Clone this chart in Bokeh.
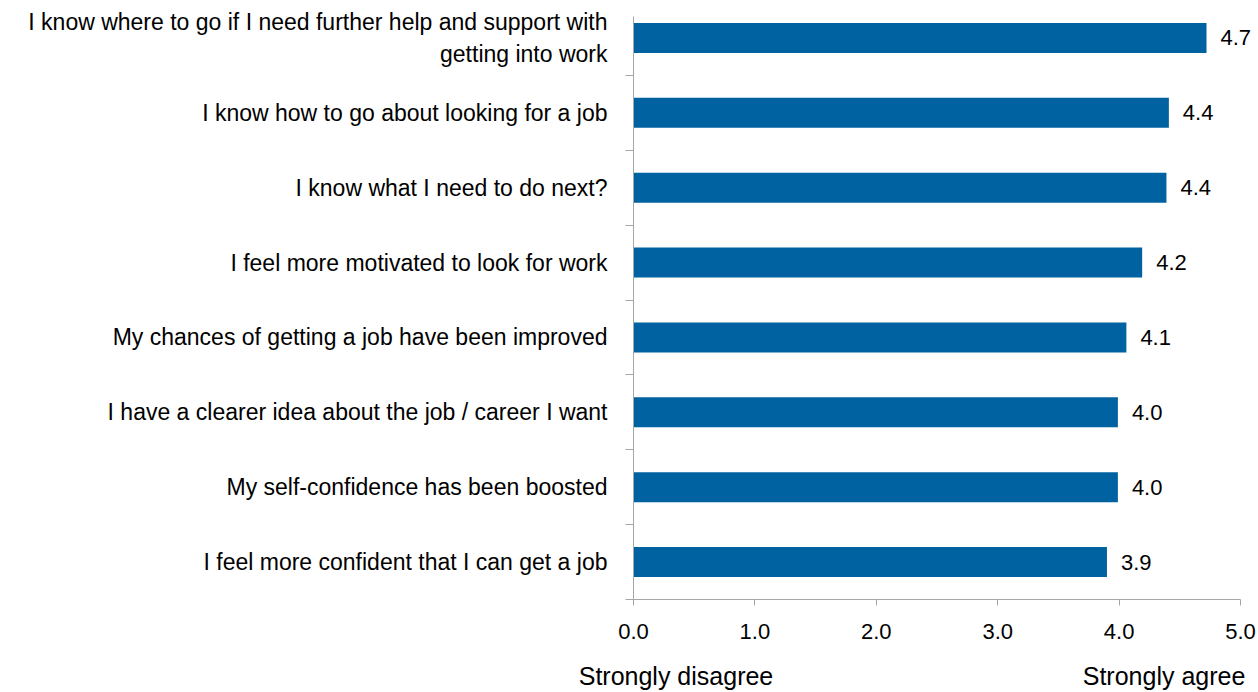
from bokeh.plotting import figure
from bokeh.models import Range1d, FixedTicker, LabelSet, ColumnDataSource, NumeralTickFormatter, LinearAxis
from bokeh.core.properties import value
from bokeh.embed import file_html
from bokeh.resources import INLINE

categories = [
    "I know where to go if I need further help and support with\ngetting into work",
    "I know how to go about looking for a job",
    "I know what I need to do next?",
    "I feel more motivated to look for work",
    "My chances of getting a job have been improved",
    "I have a clearer idea about the job / career I want",
    "My self-confidence has been boosted",
    "I feel more confident that I can get a job",
]
values = [4.72, 4.41, 4.39, 4.19, 4.06, 3.99, 3.99, 3.90]
x_ticks = [0, 1, 2, 3, 4, 5]
end_labels = ["Strongly disagree", "Strongly agree"]
end_label_pos = [0.35, 4.37]

FONT = "Liberation Sans"
BAR = "#0062A0"
AXIS = "#A6A6A6"

n = len(categories)
ypos = [n - i - 0.5 for i in range(n)]

xmax = 5.0 * 625 / 607  # room on the right for the 4.7 label
p = figure(width=1258, height=692, output_backend="svg", toolbar_location=None,
           x_range=Range1d(0, xmax), y_range=Range1d(0, n),
           min_border_left=633, min_border_right=0, min_border_top=0, min_border_bottom=93)
p.outline_line_color = None
p.xgrid.visible = False
p.ygrid.visible = False

src = ColumnDataSource(dict(y=ypos, v=values, lab=[f"{v:.1f}" for v in values]))
p.hbar(y="y", right="v", left=0, height=0.4, source=src, fill_color=BAR, line_color=None)

p.add_layout(LabelSet(x="v", y="y", text="lab", source=src, x_offset=14, text_baseline="middle",
                      text_align="left", text_font=value(FONT), text_font_size=value("22px"),
                      text_color=value("#000000")))

# x axis
xa = p.xaxis[0]
xa.ticker = FixedTicker(ticks=x_ticks)
xa.bounds = (0, 5)
xa.formatter = NumeralTickFormatter(format="0.0")
xa.axis_line_color = AXIS
xa.major_tick_line_color = AXIS
xa.major_tick_in = 0
xa.major_tick_out = 6
xa.minor_tick_line_color = None
xa.major_label_text_font = FONT
xa.major_label_text_font_size = "22px"
xa.major_label_text_color = "#000000"
xa.major_label_standoff = 18

# second bottom axis carrying the scale-end captions
xb = LinearAxis(ticker=FixedTicker(ticks=end_label_pos),
                major_label_overrides={k: t for k, t in zip(end_label_pos, end_labels)})
xb.axis_line_color = None
xb.major_tick_line_color = None
xb.minor_tick_line_color = None
xb.major_label_text_font = FONT
xb.major_label_text_font_size = "25px"
xb.major_label_text_color = "#000000"
xb.major_label_standoff = 14
p.add_layout(xb, "below")

# y axis: labels at category centres, ticks (minor) at category boundaries
ya = p.yaxis[0]
ya.ticker = FixedTicker(ticks=ypos, minor_ticks=list(range(n)))
ya.bounds = (0, n - 16 / 75)
ya.major_label_overrides = {y: c for y, c in zip(ypos, categories)}
ya.axis_line_color = AXIS
ya.major_tick_line_color = None
ya.major_tick_in = 0
ya.major_tick_out = 0
ya.minor_tick_line_color = AXIS
ya.minor_tick_in = 0
ya.minor_tick_out = 8
ya.major_label_text_font = FONT
ya.major_label_text_font_size = "23px"
ya.major_label_text_color = "#000000"
ya.major_label_standoff = 18

open("out.html", "w").write(file_html(p, INLINE))
